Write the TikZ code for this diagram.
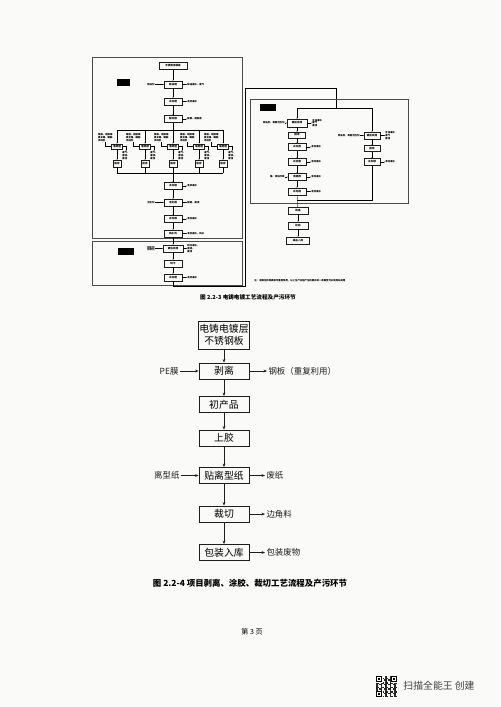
\documentclass[tikz,border=0pt]{standalone}
\usepackage{fontspec}
\setmainfont{Noto Sans CJK SC}
\usetikzlibrary{arrows.meta, positioning}
\definecolor{tinta}{RGB}{30,30,30}
\definecolor{papel}{RGB}{250,250,248}

\begin{document}
\begin{tikzpicture}[x=0.05cm, y=-0.05cm,
    procbox/.style={draw=tinta, line width=1.2pt, minimum width=2.5cm, minimum height=0.8cm, align=center, inner sep=1pt, font=\fontsize{14}{17}\selectfont},
    sidetext/.style={font=\fontsize{12}{14}\selectfont, inner sep=2pt, text=tinta},
    arrow/.style={line width=0.9pt, -{Stealth[length=5pt, width=4pt]}, draw=tinta},
    minibox/.style={draw=tinta, line width=0.55pt, minimum height=0.35cm, inner sep=0.5pt, font=\bfseries\fontsize{3.6}{4}\selectfont},
    minitext/.style={font=\bfseries\fontsize{3.4}{3.9}\selectfont, align=left, inner sep=0.5pt},
    miniarrow/.style={line width=0.45pt, -{Stealth[length=1.6pt, width=1.3pt]}},
    frame/.style={draw=tinta!80, line width=0.6pt},
    tag/.style={fill=black, minimum height=0.35cm, inner sep=0pt}
]
    \useasboundingbox[fill=papel] (0,0) rectangle (500,707);

    % figure 2.2-3, left part
    \draw[frame] (92,57) rectangle (242,238);
    \draw[frame] (92,241) rectangle (242,285);
    \node[tag, minimum width=0.67cm] (tagA) at (123.5,82.5) {};
    \node[tag, minimum width=0.8cm] (tagB) at (126,251.5) {};

    \node[minibox, minimum width=1.4cm] (t0) at (173,66) {不锈钢母模板};
    \node[minibox, minimum width=0.9cm] (t1) at (173,84.5) {除油槽};
    \node[minibox, minimum width=0.9cm] (t2) at (173,101.5) {水洗槽};
    \node[minibox, minimum width=0.9cm] (t3) at (173,119) {酸洗槽};
    \node[minitext, anchor=east] (t1in) at (155,84.5) {除油剂};
    \node[minitext, anchor=west] (t1out) at (187,84.5) {除油废水、废气};
    \node[minitext, anchor=west] (t2out) at (187,101.5) {清洗废水};
    \node[minitext, anchor=west] (t3out) at (187,119) {酸雾、废酸液};

    \draw[miniarrow] (t0) -- (t1);
    \draw[miniarrow] (t1) -- (t2);
    \draw[miniarrow] (t2) -- (t3);
    \draw[miniarrow] (t1in) -- (t1);
    \draw[miniarrow] (t1) -- (t1out);
    \draw[miniarrow] (t2) -- (t2out);
    \draw[miniarrow] (t3) -- (t3out);
    \draw (t3) -- (173,130);
    \draw (117,130) -- (223,130);
    \draw (117,173) -- (223,173);

    \foreach \cx/\k in {117/a,145/b,173/c,199/d,223/e} {
        \node[minibox, minimum width=0.55cm, minimum height=0.28cm] (dz\k) at (\cx,146.5) {电铸槽};
        \node[minibox, minimum width=0.38cm] (hs\k) at (\cx,163.5) {回收};
        \node[minitext, anchor=south east] (in\k) at (\cx-4,142) {镍板、硫酸镍\\氯化镍、硼酸\\添加剂};
        \node[minitext, anchor=north west] (out\k) at (\cx+5,151) {废气、\\废液、\\废渣};
        \draw[miniarrow] (\cx,130) -- (dz\k);
        \draw[miniarrow] (dz\k) -- (hs\k);
        \draw (hs\k) -- (\cx,173);
        \draw[miniarrow] (in\k.south) |- (dz\k.west);
        \draw[miniarrow] (dz\k.east) -| (out\k.north);
    }

    \node[minibox, minimum width=0.9cm] (t4) at (173,186) {水洗槽};
    \node[minibox, minimum width=0.9cm] (t5) at (173,202.5) {活化槽};
    \node[minibox, minimum width=0.9cm] (t6) at (173,219) {水洗槽};
    \node[minibox, minimum width=0.9cm] (t7) at (173,233.5) {纯水洗};
    \node[minitext, anchor=west] (t4out) at (187,186) {清洗废水};
    \node[minitext, anchor=east] (t5in) at (155,202.5) {活化剂};
    \node[minitext, anchor=west] (t5out) at (187,202.5) {酸雾、废液};
    \node[minitext, anchor=west] (t6out) at (187,219) {清洗废水};
    \node[minitext, anchor=west] (t7out) at (187,233.5) {清洗废水、纯水};

    \draw[miniarrow] (173,173) -- (t4);
    \draw[miniarrow] (t4) -- (t5);
    \draw[miniarrow] (t5) -- (t6);
    \draw[miniarrow] (t6) -- (t7);
    \draw[miniarrow] (t4) -- (t4out);
    \draw[miniarrow] (t5in) -- (t5);
    \draw[miniarrow] (t5) -- (t5out);
    \draw[miniarrow] (t6) -- (t6out);
    \draw[miniarrow] (t7) -- (t7out);

    \node[minibox, minimum width=1.0cm] (t8) at (173,248.5) {镀后处理};
    \node[minibox, minimum width=0.9cm] (t9) at (173,263.5) {烘干};
    \node[minibox, minimum width=0.9cm] (t10) at (173,277.5) {水洗槽};
    \node[minitext, anchor=east] (t8in) at (155,248.5) {钝化剂\\防锈剂};
    \node[minitext, anchor=west] (t8out) at (187,248.5) {钝化废水、\\废液、\\废渣};
    \node[minitext, anchor=west] (t10out) at (187,277.5) {清洗废水};

    \draw[miniarrow] (t7) -- (t8);
    \draw[miniarrow] (t8) -- (t9);
    \draw[miniarrow] (t9) -- (t10);
    \draw[miniarrow] (t8in) -- (t8);
    \draw[miniarrow] (t8) -- (t8out);
    \draw[miniarrow] (t10) -- (t10out);

    % figure 2.2-3, right part
    \draw (t10) -- (173,286) -- (245,286) -- (245,88) -- (336,88) -- (336,108);
    \draw[frame] (250,99) rectangle (408,203);
    \node[tag, minimum width=0.8cm] (tagC) at (268,107.5) {};
    \draw (297,108) -- (372,108);

    \node[minibox, minimum width=1.0cm, minimum height=0.4cm] (r1) at (297,123) {镀前处理};
    \node[minibox, minimum width=0.85cm, minimum height=0.3cm] (r2) at (297,135) {回收};
    \node[minibox, minimum width=0.9cm] (r3) at (297,147) {水洗槽};
    \node[minibox, minimum width=0.9cm] (r4) at (297,162) {水洗槽};
    \node[minibox, minimum width=0.9cm] (r5) at (297,177) {电镀槽};
    \node[minibox, minimum width=0.9cm] (r6) at (297,191.5) {水洗槽};
    \node[minitext, anchor=east] (r1in) at (285,123) {除油剂、表面活性剂};
    \node[minitext, anchor=west] (r1out) at (312,123) {含油废水\\废气\\废渣};
    \node[minitext, anchor=west] (r3out) at (311,147) {清洗废水};
    \node[minitext, anchor=west] (r4out) at (311,162) {清洗废水};
    \node[minitext, anchor=east] (r5in) at (285,177) {镍、添加剂等};
    \node[minitext, anchor=west] (r5out) at (311,177) {清洗废水};
    \node[minitext, anchor=west] (r6out) at (311,191.5) {清洗废水};

    \node[minibox, minimum width=0.8cm] (q1) at (372,135.5) {镀前处理};
    \node[minibox, minimum width=0.8cm, minimum height=0.3cm] (q2) at (372,148.5) {回收};
    \node[minibox, minimum width=0.8cm] (q3) at (372,162) {水洗槽};
    \node[minitext, anchor=east] (q1in) at (360,135.5) {除油剂、表面活性剂};
    \node[minitext, anchor=west] (q1out) at (385,135.5) {含油废水\\废气\\废渣};
    \node[minitext, anchor=west] (q3out) at (385,162) {清洗废水};

    \node[minibox, minimum width=1.0cm] (r7) at (298,210.5) {剥离};
    \node[minibox, minimum width=1.0cm] (r8) at (298,225.5) {检验};
    \node[minibox, minimum width=1.15cm] (r9) at (298,240.5) {成品入库};

    \draw[miniarrow] (297,108) -- (r1);
    \draw[miniarrow] (r1) -- (r2);
    \draw[miniarrow] (r2) -- (r3);
    \draw[miniarrow] (r3) -- (r4);
    \draw[miniarrow] (r4) -- (r5);
    \draw[miniarrow] (r5) -- (r6);
    \draw[miniarrow] (r1in) -- (r1);
    \draw[miniarrow] (r1) -- (r1out);
    \draw[miniarrow] (r3) -- (r3out);
    \draw[miniarrow] (r4) -- (r4out);
    \draw[miniarrow] (r5in) -- (r5);
    \draw[miniarrow] (r5) -- (r5out);
    \draw[miniarrow] (r6) -- (r6out);
    \draw[miniarrow] (372,108) -- (q1);
    \draw[miniarrow] (q1) -- (q2);
    \draw[miniarrow] (q2) -- (q3);
    \draw[miniarrow] (q1in) -- (q1);
    \draw[miniarrow] (q1) -- (q1out);
    \draw[miniarrow] (q3) -- (q3out);
    \draw (q3) -- (372,200) -- (297,200);
    \draw[miniarrow] (r6) -- (r7);
    \draw[miniarrow] (r7) -- (r8);
    \draw[miniarrow] (r8) -- (r9);

    \node[minitext, anchor=west] (note) at (254,281) {注：电铸后的母模板可重复使用，以上生产过程产生的废水统一收集至污水处理站处理};
    \node[font=\bfseries\fontsize{8}{10}\selectfont] (cap1) at (248,297) {图\ 2.2-3\ 电铸电镀工艺流程及产污环节};

    % figure 2.2-4
    \node[procbox, minimum height=1.4cm] (b1) at (224,335) {电铸电镀层\\不锈钢板};
    \node[procbox] (b2) at (224,371) {剥离};
    \node[procbox] (b3) at (224,404.5) {初产品};
    \node[procbox] (b4) at (224,438) {上胶};
    \node[procbox] (b5) at (224,475.5) {贴离型纸};
    \node[procbox] (b6) at (224,514) {裁切};
    \node[procbox] (b7) at (224,552.5) {包装入库};

    \node[sidetext, anchor=east] (pe) at (180,371) {PE膜};
    \node[sidetext, anchor=west] (gb) at (267,371) {钢板（重复利用）};
    \node[sidetext, anchor=east] (lxz) at (181,475.5) {离型纸};
    \node[sidetext, anchor=west] (fz) at (265,475.5) {废纸};
    \node[sidetext, anchor=west] (bjl) at (265,514) {边角料};
    \node[sidetext, anchor=west] (bzfw) at (265,552.5) {包装废物};

    \draw[arrow] (b1) -- (b2);
    \draw[arrow] (b2) -- (b3);
    \draw[arrow] (b3) -- (b4);
    \draw[arrow] (b4) -- (b5);
    \draw[arrow] (b5) -- (b6);
    \draw[arrow] (b6) -- (b7);
    \draw[arrow] (pe) -- (b2);
    \draw[arrow] (b2) -- (gb);
    \draw[arrow] (lxz) -- (b5);
    \draw[arrow] (b5) -- (fz);
    \draw[arrow] (b6) -- (bjl);
    \draw[arrow] (b7) -- (bzfw);

    \node[font=\bfseries\fontsize{12}{14}\selectfont] (cap2) at (250,583) {图\ 2.2-4\ 项目剥离、涂胶、裁切工艺流程及产污环节};
    \node[font=\fontsize{10}{12}\selectfont] (page) at (252,632) {第 3 页};

    % scanner mark
    \foreach \i in {0,...,13} {
        \foreach \j in {0,...,13} {
            \pgfmathtruncatemacro{\q}{mod(\i*\i+3*\j+5*\i*\j,3)}
            \ifnum\q=0 \fill[black!85] (376+\i*1.5,676+\j*1.5) rectangle ++(1.5,1.5); \fi
        }
    }
    \foreach \fx/\fy in {376/676,391/676,376/691} {
        \fill[papel] (\fx-0.5,\fy-0.5) rectangle ++(7,7);
        \fill[black] (\fx,\fy) rectangle ++(6,6);
        \fill[papel] (\fx+1,\fy+1) rectangle ++(4,4);
        \fill[black] (\fx+2,\fy+2) rectangle ++(2,2);
    }
    \node[anchor=west, text=black!75, font=\fontsize{14}{16}\selectfont] (scan) at (401,686) {扫描全能王\ 创建};
\end{tikzpicture}
\end{document}
